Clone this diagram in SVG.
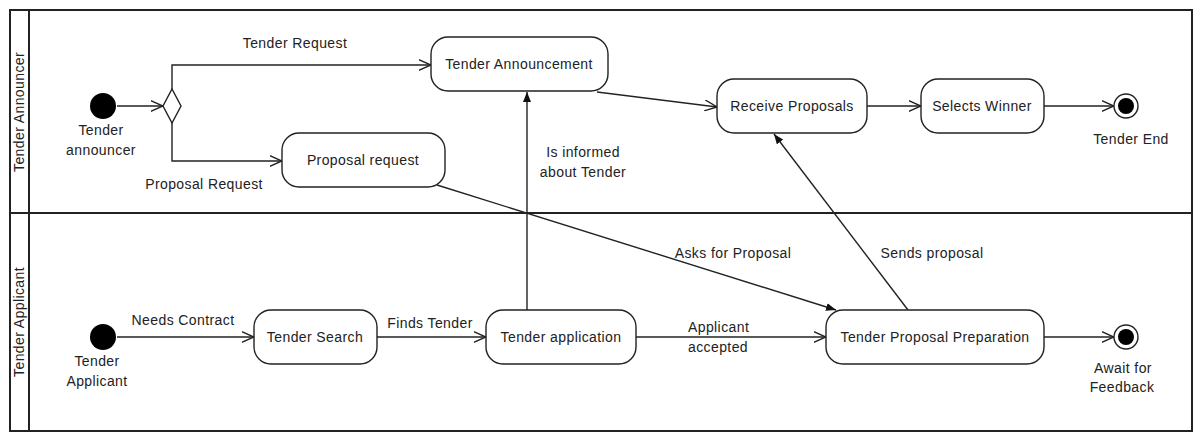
<svg xmlns="http://www.w3.org/2000/svg" width="1200" height="432" viewBox="0 0 1200 432">
<style>
text{font-family:"Liberation Sans",Arial,sans-serif;font-size:14px;fill:#222;letter-spacing:0.4px}
.c{text-anchor:middle}
.box{fill:#fff;stroke:#222;stroke-width:1.4}
.frame{fill:none;stroke:#222;stroke-width:2}
.edge{fill:none;stroke:#222;stroke-width:1.4}
</style>
<defs>
<marker id="open" viewBox="0 0 13 12" refX="12.5" refY="6" markerWidth="13" markerHeight="12" markerUnits="userSpaceOnUse" orient="auto">
<path d="M0,0.5 L12.5,6 L0,11.5" fill="none" stroke="#222" stroke-width="1.4"/>
</marker>
<marker id="fill" viewBox="0 0 10 8" refX="10" refY="4" markerWidth="10" markerHeight="8" markerUnits="userSpaceOnUse" orient="auto">
<path d="M0,0 L10,4 L0,8 Z" fill="#111"/>
</marker>
</defs>
<rect width="1200" height="432" fill="#fff"/>
<g id="lanes">
<rect class="frame" x="10" y="10" width="1182" height="421"/>
<line class="frame" x1="29" y1="10" x2="29" y2="431"/>
<line class="frame" x1="10" y1="213" x2="1192" y2="213"/>
<text class="c" transform="translate(24,112) rotate(-90)">Tender Announcer</text>
<text class="c" transform="translate(24,322) rotate(-90)">Tender Applicant</text>
</g>
<g id="connectors">
<line class="edge" x1="117" y1="106" x2="163" y2="106" marker-end="url(#open)"/>
<polyline class="edge" points="172,89 172,65 431,65" marker-end="url(#open)"/>
<text class="c" x="295" y="48">Tender Request</text>
<polyline class="edge" points="172,123 172,161 282,161" marker-end="url(#open)"/>
<text class="c" x="204" y="189">Proposal Request</text>
<line class="edge" x1="597" y1="92" x2="717" y2="107" marker-end="url(#open)"/>
<line class="edge" x1="866" y1="106" x2="921" y2="106" marker-end="url(#open)"/>
<line class="edge" x1="1044" y1="106" x2="1114" y2="106" marker-end="url(#open)"/>
<line class="edge" x1="527" y1="310" x2="527" y2="92" marker-end="url(#fill)"/>
<text class="c" x="583" y="157">Is informed</text>
<text class="c" x="583" y="177">about Tender</text>
<line class="edge" x1="437" y1="185" x2="836" y2="310" marker-end="url(#fill)"/>
<text class="c" x="733" y="258">Asks for Proposal</text>
<line class="edge" x1="908" y1="310" x2="774" y2="134" marker-end="url(#fill)"/>
<text class="c" x="932" y="258">Sends proposal</text>
<line class="edge" x1="117" y1="337" x2="254" y2="337" marker-end="url(#open)"/>
<text class="c" x="183" y="325">Needs Contract</text>
<line class="edge" x1="377" y1="337" x2="486" y2="337" marker-end="url(#open)"/>
<text class="c" x="430" y="328">Finds Tender</text>
<line class="edge" x1="636" y1="337" x2="826" y2="337" marker-end="url(#open)"/>
<text x="688" y="332">Applicant</text>
<text x="688" y="352">accepted</text>
<line class="edge" x1="1044" y1="337" x2="1114" y2="337" marker-end="url(#open)"/>
</g>
<g id="start-announcer">
<circle cx="103" cy="106" r="13" fill="#000"/>
<text class="c" x="101" y="135">Tender</text>
<text class="c" x="101" y="155">announcer</text>
</g>
<g id="decision">
<path class="box" d="M172,89 L181,106 L172,123 L163,106 Z"/>
</g>
<g id="tender-announcement">
<rect class="box" x="431" y="37" width="177" height="54" rx="17"/>
<text class="c" x="519" y="69">Tender Announcement</text>
</g>
<g id="proposal-request">
<rect class="box" x="282" y="133" width="163" height="54" rx="17"/>
<text class="c" x="363" y="165">Proposal request</text>
</g>
<g id="receive-proposals">
<rect class="box" x="717" y="79" width="150" height="54" rx="17"/>
<text class="c" x="792" y="111">Receive Proposals</text>
</g>
<g id="selects-winner">
<rect class="box" x="921" y="79" width="123" height="54" rx="17"/>
<text class="c" x="982" y="111">Selects Winner</text>
</g>
<g id="tender-end">
<circle cx="1126" cy="106" r="12" fill="#fff" stroke="#222" stroke-width="1.4"/>
<circle cx="1126" cy="106" r="8" fill="#000"/>
<text class="c" x="1131" y="144">Tender End</text>
</g>
<g id="start-applicant">
<circle cx="103" cy="337" r="13" fill="#000"/>
<text class="c" x="97" y="366">Tender</text>
<text class="c" x="97" y="386">Applicant</text>
</g>
<g id="tender-search">
<rect class="box" x="254" y="310" width="123" height="54" rx="17"/>
<text class="c" x="315" y="342">Tender Search</text>
</g>
<g id="tender-application">
<rect class="box" x="486" y="310" width="150" height="54" rx="17"/>
<text class="c" x="561" y="342">Tender application</text>
</g>
<g id="tender-proposal-preparation">
<rect class="box" x="826" y="310" width="218" height="54" rx="17"/>
<text class="c" x="935" y="342">Tender Proposal Preparation</text>
</g>
<g id="await-feedback">
<circle cx="1126" cy="337" r="12" fill="#fff" stroke="#222" stroke-width="1.4"/>
<circle cx="1126" cy="337" r="8" fill="#000"/>
<text class="c" x="1123" y="373">Await for</text>
<text class="c" x="1122" y="392">Feedback</text>
</g>
</svg>
